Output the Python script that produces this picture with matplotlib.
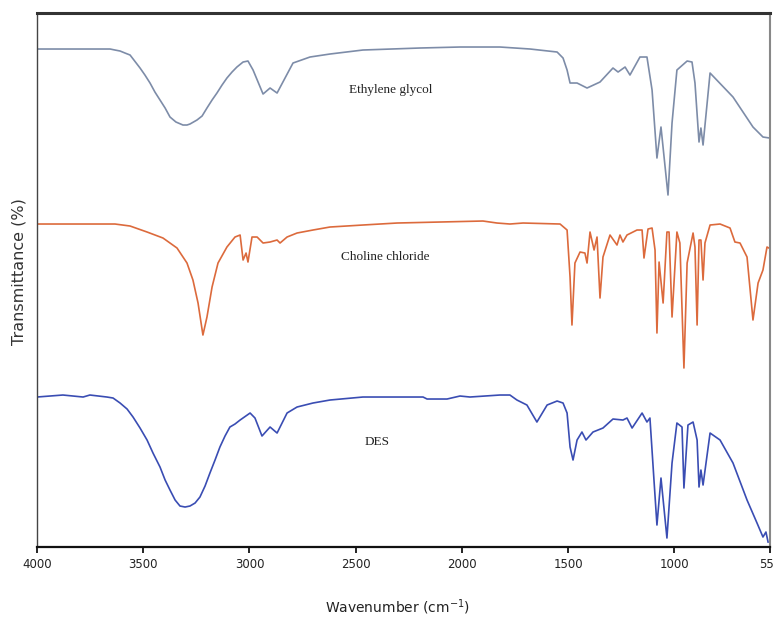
import matplotlib
matplotlib.use("Agg")
import matplotlib.pyplot as plt

# Ethylene glycol spectrum (wavenumber, transmittance, offset stack)
eg_wn = [4000, 3656, 3633, 3609, 3586, 3562, 3515, 3492, 3468, 3445,
         3421, 3397, 3374, 3346, 3313, 3294, 3280, 3247, 3223, 3200,
         3176, 3153, 3129, 3106, 3082, 3059, 3030, 3007, 2983, 2936,
         2903, 2870, 2795, 2715, 2621, 2466, 2198, 2009, 1821, 1679,
         1552, 1524, 1505, 1491, 1458, 1411, 1350, 1289, 1265, 1232,
         1209, 1162, 1129, 1105, 1082, 1063, 1030, 1011, 988, 940,
         917, 903, 884, 875, 865, 832, 724, 630, 583, 552]
eg_t = [99.6, 99.6, 99.4, 99.2, 98.8, 98.4, 95.8, 94.4, 92.8, 91.0,
        89.4, 87.8, 86.0, 85.0, 84.4, 84.4, 84.6, 85.4, 86.2, 87.8,
        89.4, 90.8, 92.4, 93.8, 95.0, 96.0, 97.0, 97.2, 95.4, 90.6,
        91.8, 90.8, 96.8, 98.0, 98.6, 99.4, 99.8, 100.0, 100.0, 99.6,
        99.0, 97.8, 95.4, 92.8, 92.8, 91.8, 93.0, 95.8, 95.0, 96.0,
        94.4, 98.0, 98.0, 91.4, 77.8, 84.0, 70.4, 84.8, 95.4, 97.2,
        97.0, 92.8, 81.0, 83.8, 80.4, 94.8, 90.0, 84.0, 82.0, 81.8]

# Choline chloride spectrum
cc_wn = [4000, 3633, 3562, 3482, 3407, 3341, 3294, 3266, 3242, 3219,
         3200, 3176, 3148, 3106, 3068, 3044, 3030, 3016, 3007, 2988,
         2964, 2936, 2903, 2870, 2856, 2823, 2776, 2701, 2621, 2466,
         2305, 1901, 1835, 1774, 1712,
         1538, 1505, 1491, 1482, 1468, 1444, 1421, 1411, 1397, 1378,
         1364, 1350, 1336, 1303, 1270, 1256, 1242, 1223, 1176, 1152,
         1143, 1124, 1105, 1091, 1082, 1072, 1053, 1035, 1025, 1011,
         988, 974, 955, 940, 912, 903, 893, 884, 875, 865,
         856, 832, 785, 738, 715, 691, 658, 630, 606, 583, 564, 555]
cc_t = [64.6, 64.6, 64.2, 63.0, 61.8, 59.8, 56.8, 53.4, 48.8, 42.4,
        46.0, 52.0, 56.8, 60.0, 62.0, 62.4, 57.4, 58.8, 57.0, 62.0,
        62.0, 60.8, 61.0, 61.4, 60.8, 62.0, 62.8, 63.4, 64.0, 64.4,
        64.8, 65.2, 64.8, 64.6, 64.8,
        64.6, 63.4, 54.0, 44.4, 56.8, 59.0, 58.8, 56.8, 63.0, 59.4,
        62.0, 49.8, 58.0, 62.4, 60.4, 62.4, 61.0, 62.4, 63.4, 63.4,
        57.8, 63.6, 63.8, 59.4, 42.8, 57.0, 48.8, 63.0, 63.0, 46.0,
        63.0, 60.8, 35.8, 56.8, 62.8, 60.0, 44.4, 61.4, 61.4, 53.4,
        60.8, 64.4, 64.6, 63.8, 61.0, 60.8, 58.0, 45.4, 52.8, 55.4, 60.0, 59.8]

# DES spectrum
des_wn = [4000, 3878, 3783, 3751, 3671, 3642, 3609, 3576, 3548, 3515,
          3482, 3454, 3421, 3397, 3374, 3350, 3327, 3303, 3280, 3256,
          3233, 3209, 3186, 3162, 3139, 3115, 3092, 3068, 3044, 2997,
          2974, 2941, 2903, 2870, 2823, 2776, 2701, 2621, 2466, 2183,
          2164, 2070, 2009, 1962, 1821, 1774, 1741, 1694, 1647, 1599,
          1552, 1524, 1505, 1491, 1477, 1458, 1435, 1416, 1383, 1336,
          1289, 1242, 1223, 1199, 1152, 1129, 1115, 1096, 1082, 1063,
          1035, 1011, 988, 964, 955, 936, 912, 893, 884, 875,
          865, 832, 785, 724, 658, 611, 583, 569, 559]
des_t = [30, 30.4, 30, 30.4, 30, 29.8, 28.8, 27.6, 26, 23.8,
         21.4, 18.8, 16, 13.4, 11.4, 9.4, 8.2, 8.0, 8.2, 8.8,
         10, 12.2, 14.8, 17.4, 20, 22.2, 24, 24.6, 25.4, 26.8,
         25.8, 22.2, 24, 22.8, 26.8, 28, 28.8, 29.4, 30, 30,
         29.6, 29.6, 30.2, 30, 30.4, 30.4, 29.4, 28.4, 25, 28.4,
         29.2, 28.8, 26.8, 20, 17.4, 21.4, 23, 21.4, 23, 23.8,
         25.6, 25.4, 25.8, 23.8, 26.8, 25, 25.8, 13.4, 4.4, 13.8,
         1.8, 16.8, 24.8, 24, 11.8, 24.4, 25, 21.4, 12, 15.4,
         12.4, 22.8, 21.4, 16.8, 9.4, 4.8, 2, 3, 1]

series_names = ["Ethylene glycol", "Choline chloride", "DES"]
label_pos = [(2334, 91.4), (2362, 58.0), (2400, 21.0)]
x_ticks = [4000, 3500, 3000, 2500, 2000, 1500, 1000, 550]
x_tick_labels = ["4000", "3500", "3000", "2500", "2000", "1500", "1000", "550"]

colors = ["#7d8ca8", "#dc6a3c", "#3a4db3"]

fig = plt.figure(figsize=(7.74, 6.38), dpi=100)
ax = fig.add_axes([0.0478, 0.1426, 0.947, 0.837])

for wn, t, c in zip([eg_wn, cc_wn, des_wn], [eg_t, cc_t, des_t], colors):
    ax.plot(wn, t, color=c, lw=1.2)

for name, (x, y) in zip(series_names, label_pos):
    ax.text(x, y, name, ha="center", va="center", fontsize=9.5,
            family=["Liberation Serif", "DejaVu Serif"], color="#222222")

ax.set_xlim(4000, 550)
ax.set_ylim(0, 106.8)
ax.set_xticks(x_ticks)
ax.set_xticklabels(x_tick_labels, family=["Liberation Sans Narrow", "DejaVu Sans"],
                   fontsize=8.5, color="#222222")
ax.set_yticks([])
ax.tick_params(axis="x", direction="out", length=4, width=1.2, pad=4)

ax.spines["top"].set_linewidth(2.2)
ax.spines["top"].set_color("#333333")
ax.spines["bottom"].set_linewidth(1.6)
ax.spines["bottom"].set_color("#111111")
ax.spines["left"].set_linewidth(1.0)
ax.spines["left"].set_color("#444444")
ax.spines["right"].set_linewidth(1.5)
ax.spines["right"].set_color("#888888")

fig.text(0.514, 0.049, "Wavenumber (cm$^{-1}$)", ha="center", va="center",
         fontsize=10, family=["Liberation Sans Narrow", "DejaVu Sans"], color="#222222")
fig.text(0.024, 0.575, "Transmittance (%)", rotation=90, ha="center", va="center",
         fontsize=11.5, family=["DejaVu Sans"], color="#333333")

fig.savefig("out.png", dpi=100)
